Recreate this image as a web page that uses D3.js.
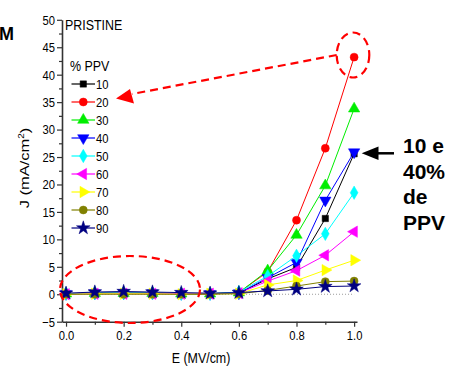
<!DOCTYPE html>
<html>
<head>
<meta charset="utf-8">
<script src="https://cdn.jsdelivr.net/npm/d3@7"></script>
<style>
    body { margin: 0; background: #fff; }
    svg { display: block; font-family: "Liberation Sans", Arial, sans-serif; }
</style>
</head>
<body>
<div id="chart"></div>
<script>
// E field (MV/cm) and current density J (mA/cm^2) per %PPV
const fieldE = [0.0, 0.1, 0.2, 0.3, 0.4, 0.5, 0.6, 0.7, 0.8, 0.9, 1.0];
const ppvLabels = ['10', '20', '30', '40', '50', '60', '70', '80', '90'];
const j10 = [0.1, 0.2, 0.2, 0.2, 0.1, 0.1, 0.2, 2.8, 4.9, 13.8, 25.6];
const j20 = [0.1, 0.2, 0.2, 0.2, 0.1, 0.1, 0.3, 4.1, 13.5, 26.6, 43.2];
const j30 = [0.1, 0.2, 0.2, 0.2, 0.1, 0.1, 0.3, 4.3, 10.8, 19.8, 33.8];
const j40 = [0.1, 0.2, 0.2, 0.2, 0.1, 0.1, 0.2, 3.0, 5.8, 17.1, 25.9];
const j50 = [0.1, 0.2, 0.2, 0.2, 0.1, 0.1, 0.4, 3.3, 7.0, 11.0, 18.5];
const j60 = [0.0, 0.1, 0.1, 0.1, 0.1, 0.1, 0.2, 2.4, 4.3, 7.1, 11.4];
const j70 = [0.0, 0.1, 0.1, 0.1, 0.0, 0.1, 0.1, 1.7, 2.5, 4.4, 6.2];
const j80 = [0.0, 0.0, 0.0, 0.0, 0.0, 0.0, 0.1, 0.7, 1.5, 2.3, 2.4];
const j90 = [0.2, 0.4, 0.5, 0.4, 0.3, 0.2, 0.3, 0.6, 0.9, 1.4, 1.5];
const xTicks = [0.0, 0.2, 0.4, 0.6, 0.8, 1.0];
const yTicks = [-5, 0, 5, 10, 15, 20, 25, 30, 35, 40, 45, 50];

const seriesValues = [j10, j20, j30, j40, j50, j60, j70, j80, j90];
const COLORS = ['#000000', '#ff0000', '#00ee00', '#0000ff', '#00ffff', '#ff00ff', '#ffff00', '#808000', '#000080'];
// symbol type, rotation, area - Origin style markers
const MARKERS = [
    [d3.symbolSquare, 0, 40], [d3.symbolCircle, 0, 50], [d3.symbolTriangle, 0, 56],
    [d3.symbolTriangle, 180, 56], [d3.symbolDiamond, 0, 52], [d3.symbolTriangle, -90, 56],
    [d3.symbolTriangle, 90, 56], [d3.symbolCircle, 0, 50], [d3.symbolStar, 0, 58],
];
const SX = 0.83; // the original text is horizontally squeezed

const W = 449, H = 367;
const svg = d3.select('#chart').append('svg').attr('width', W).attr('height', H);

const x = d3.scaleLinear().domain([-0.014, 1.01]).range([62, 357]);
const y = d3.scaleLinear().domain([-5, 50]).range([321.7, 19.8]);

function squeeze(sel, px, py) {
    sel.attr('transform', 'translate(' + px + ',' + py + ') scale(' + SX + ',1) translate(' + (-px) + ',' + (-py) + ')');
}

function addText(txt, px, py, size, anchor, weight, sx) {
    const t = svg.append('text')
        .attr('x', px).attr('y', py)
        .attr('font-size', size)
        .attr('text-anchor', anchor || 'start')
        .attr('font-weight', weight || 'normal')
        .text(txt);
    if (sx !== false) squeeze(t, px, py);
    return t;
}

// zero reference line
svg.append('line')
    .attr('x1', x(0)).attr('x2', x(1))
    .attr('y1', y(0)).attr('y2', y(0))
    .attr('stroke', '#999').attr('stroke-width', 1).attr('stroke-dasharray', '1,2');

// axes: minor then major
const yMinor = d3.range(-2.5, 50, 5);
const xMinor = d3.range(0.1, 1.01, 0.2);

svg.append('g').attr('transform', 'translate(62,0)')
    .call(d3.axisLeft(y).tickValues(yMinor).tickSize(3).tickFormat(''))
    .call(g => g.select('.domain').remove())
    .selectAll('line').attr('stroke', '#333').attr('stroke-width', 1.2);
svg.append('g').attr('transform', 'translate(0,321.7)')
    .call(d3.axisBottom(x).tickValues(xMinor).tickSize(3).tickFormat(''))
    .call(g => g.select('.domain').remove())
    .selectAll('line').attr('stroke', '#333').attr('stroke-width', 1.2);

const yAxis = svg.append('g').attr('transform', 'translate(62,0)')
    .call(d3.axisLeft(y).tickValues(yTicks).tickSize(5).tickSizeOuter(0).tickPadding(2).tickFormat(d3.format('d')));
const xAxis = svg.append('g').attr('transform', 'translate(0,321.7)')
    .call(d3.axisBottom(x).tickValues(xTicks).tickSize(5).tickSizeOuter(0).tickPadding(4).tickFormat(d3.format('.1f')));

[yAxis, xAxis].forEach(function (ax) {
    ax.select('.domain').attr('stroke', '#333').attr('stroke-width', 1.6);
    ax.selectAll('.tick line').attr('stroke', '#333').attr('stroke-width', 1.2);
    ax.selectAll('.tick text')
        .attr('fill', '#000')
        .attr('font-size', 13.5)
        .attr('font-family', '"Liberation Sans", Arial, sans-serif');
});
yAxis.selectAll('.tick text').each(function () {
    const t = d3.select(this);
    squeeze(t, +t.attr('x'), 0);
});
xAxis.selectAll('.tick text').each(function () {
    squeeze(d3.select(this), 0, 0);
});

// series
const line = d3.line()
    .x(function (d, i) { return x(fieldE[i]); })
    .y(function (d) { return y(d); });

function marker(sel, k) {
    const m = MARKERS[k];
    return sel.append('path')
        .attr('d', d3.symbol().type(m[0]).size(m[2])())
        .attr('fill', COLORS[k])
        .attr('stroke', COLORS[k])
        .attr('stroke-width', 0.5);
}

seriesValues.forEach(function (vals, k) {
    const g = svg.append('g');
    g.append('path')
        .attr('d', line(vals))
        .attr('fill', 'none')
        .attr('stroke', COLORS[k])
        .attr('stroke-width', 1);
    vals.forEach(function (v, i) {
        const rot = MARKERS[k][1];
        marker(g, k).attr('transform', 'translate(' + x(fieldE[i]) + ',' + y(v) + ') rotate(' + rot + ')');
    });
});

// legend
addText('PRISTINE', 65, 30.5, 15);
addText('% PPV', 70, 71, 15);
ppvLabels.forEach(function (lab, k) {
    const cy = 84 + 18 * k;
    svg.append('line')
        .attr('x1', 71.5).attr('x2', 95)
        .attr('y1', cy).attr('y2', cy)
        .attr('stroke', COLORS[k]).attr('stroke-width', 1.2);
    marker(svg, k).attr('transform', 'translate(83.3,' + cy + ') rotate(' + MARKERS[k][1] + ')');
    addText(lab, 96, cy + 5, 13.5);
});

// axis titles
addText('E (MV/cm)', 201, 363, 15, 'middle');
const yt = svg.append('text')
    .attr('transform', 'translate(29,168) scale(' + SX + ',1) rotate(-90)')
    .attr('text-anchor', 'middle')
    .attr('font-size', 16.5);
yt.append('tspan').text('J (mA/cm');
yt.append('tspan').attr('font-size', 10).attr('dy', -6).text('2');
yt.append('tspan').attr('dy', 6).text(')');

// annotations
const red = '#ff0000';
svg.append('ellipse')
    .attr('cx', 130).attr('cy', 289.5).attr('rx', 70).attr('ry', 33.5)
    .attr('fill', 'none').attr('stroke', red).attr('stroke-width', 2.2)
    .attr('stroke-dasharray', '8,5');
svg.append('ellipse')
    .attr('cx', 353).attr('cy', 55).attr('rx', 16.3).attr('ry', 22.5)
    .attr('fill', 'none').attr('stroke', red).attr('stroke-width', 2.2)
    .attr('stroke-dasharray', '8,5');
svg.append('line')
    .attr('x1', 336.7).attr('y1', 55).attr('x2', 132).attr('y2', 94)
    .attr('stroke', red).attr('stroke-width', 2.2).attr('stroke-dasharray', '8,5');
svg.append('path')
    .attr('d', 'M116,98.5L130,89L134,103.5Z')
    .attr('fill', red);

svg.append('line')
    .attr('x1', 377).attr('y1', 153.3).attr('x2', 394).attr('y2', 153.3)
    .attr('stroke', '#000').attr('stroke-width', 2.5);
svg.append('path')
    .attr('d', 'M361.7,153.3L378.5,146.5L378.5,160.1Z')
    .attr('fill', '#000');

['10 e', '40%', 'de', 'PPV'].forEach(function (s, i) {
    addText(s, 403, 153 + 25.5 * i, 21, 'start', 'bold', false);
});
addText('M', 14, 40, 18, 'end', 'bold', false);
</script>
</body>
</html>
